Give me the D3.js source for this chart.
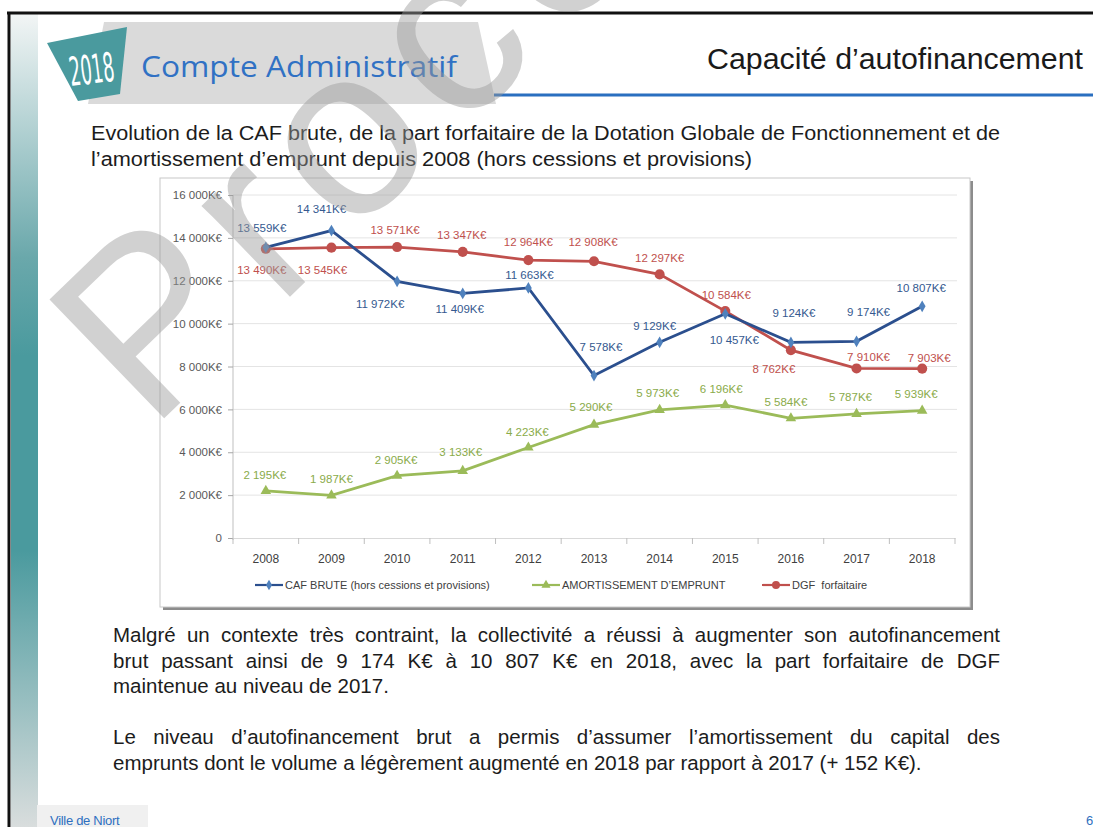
<!DOCTYPE html>
<html>
<head>
<meta charset="utf-8">
<script src="https://cdn.jsdelivr.net/npm/d3@7"></script>
<style>
  body { margin: 0; background: #fff; }
  svg { display: block; font-family: "Liberation Sans", Arial, sans-serif; }
</style>
</head>
<body>
<svg id="slide" width="1093" height="827"></svg>
<script>
// values (K€)
var years = ["2008", "2009", "2010", "2011", "2012", "2013", "2014", "2015", "2016", "2017", "2018"];
var cafBrute = [13559, 14341, 11972, 11409, 11663, 7578, 9129, 10457, 9124, 9174, 10807];
var amortissement = [2195, 1987, 2905, 3133, 4223, 5290, 5973, 6196, 5584, 5787, 5939];
var dgf = [13490, 13545, 13571, 13347, 12964, 12908, 12297, 10584, 8762, 7910, 7903];
var yTicks = [0, 2000, 4000, 6000, 8000, 10000, 12000, 14000, 16000];
var seriesNames = ["CAF BRUTE (hors cessions et provisions)", "AMORTISSEMENT D\u2019EMPRUNT", "DGF  forfaitaire"];

// where each data label sits relative to its point
var cafLabelPos = [[-4,-19],[-10,-22],[-17,23],[-3,16],[1,-13],[7,-29],[-5,-16],[9,26],[3,-29],[12,-29],[-1,-18]];
var dgfLabelPos = [[-4,21],[-9,22],[-2,-17],[-1,-17],[0,-18],[-1,-19],[0,-16],[1,-16],[-17,19],[12,-11],[7,-11]];
var amoLabelPos = [[-1,-16],[0,-16],[-1,-16],[-2,-19],[-1,-15],[-3,-18],[-2,-17],[-4,-16],[-5,-16],[-6,-17],[-6,-17]];

var svg = d3.select("#slide");
var defs = svg.append("defs");

var fr = d3.formatLocale({decimal: ",", thousands: " ", grouping: [3], currency: ["", ""]});
var num = fr.format(",");
function keuro(v) { return num(v) + "K\u20AC"; }

// ---- slide frame ----
var grad = defs.append("linearGradient").attr("id", "sidebar").attr("x1", 0).attr("y1", 0).attr("x2", 0).attr("y2", 1);
grad.append("stop").attr("offset", "0%").attr("stop-color", "#f2f5f5");
grad.append("stop").attr("offset", "30%").attr("stop-color", "#6aa8ab");
grad.append("stop").attr("offset", "42%").attr("stop-color", "#4a9a9e");
grad.append("stop").attr("offset", "66%").attr("stop-color", "#4a9a9e");
grad.append("stop").attr("offset", "100%").attr("stop-color", "#d9dddd");

svg.append("rect").attr("x", 11).attr("y", 14).attr("width", 27).attr("height", 813).attr("fill", "url(#sidebar)");
svg.append("line").attr("x1", 7).attr("x2", 1093).attr("y1", 13).attr("y2", 13).attr("stroke", "#111").attr("stroke-width", 3);
svg.append("line").attr("x1", 9).attr("x2", 9).attr("y1", 12).attr("y2", 827).attr("stroke", "#111").attr("stroke-width", 3);

// header
svg.append("polygon").attr("points", "104,22 478,22 496,104 88,104").attr("fill", "#dadada");
svg.append("polygon").attr("points", "47,43 127,27 120,94 78,101").attr("fill", "#4a9a9e");
svg.append("text").attr("transform", "translate(71,86) rotate(-7)")
    .attr("font-family", "'DejaVu Sans Condensed', 'Liberation Sans Narrow', sans-serif")
    .attr("font-size", 40).attr("fill", "#fff")
    .attr("textLength", 45).attr("lengthAdjust", "spacingAndGlyphs")
    .text("2018");
svg.append("text").attr("x", 141).attr("y", 77)
    .attr("font-family", "'Open Sans', 'Noto Sans', sans-serif")
    .attr("font-size", 29).attr("fill", "#3071c4")
    .attr("textLength", 316).attr("lengthAdjust", "spacingAndGlyphs")
    .text("Compte Administratif");
svg.append("line").attr("x1", 494).attr("x2", 1093).attr("y1", 95).attr("y2", 95)
    .attr("stroke", "#2a6fc0").attr("stroke-width", 3);
svg.append("text").attr("x", 707).attr("y", 69)
    .attr("font-size", 29).attr("fill", "#1a1a1a")
    .attr("textLength", 376).attr("lengthAdjust", "spacingAndGlyphs")
    .text("Capacit\u00e9 d\u2019autofinancement");

// body text lines
function textLine(str, x, y, size, target, justify) {
  var t = svg.append("text").attr("x", x).attr("y", y).attr("font-size", size).attr("fill", "#1c1c1c")
      .attr("xml:space", "preserve").text(str);
  if (target) {
    var w = t.node().getComputedTextLength();
    if (justify) {
      var spaces = str.split(" ").length - 1;
      t.attr("word-spacing", (target - w) / spaces);
    } else {
      t.attr("textLength", target).attr("lengthAdjust", "spacingAndGlyphs");
    }
  }
  return t;
}

textLine("Evolution de la CAF brute, de la part forfaitaire de la Dotation Globale de Fonctionnement et de", 91, 140, 20, 909, false);
textLine("l\u2019amortissement d\u2019emprunt depuis 2008 (hors cessions et provisions)", 91, 166, 20, 661, false);

textLine("Malgr\u00e9 un contexte tr\u00e8s contraint, la collectivit\u00e9 a r\u00e9ussi \u00e0 augmenter son autofinancement", 113, 642, 20.5, 887, true);
textLine("brut passant ainsi de 9 174 K\u20AC \u00e0 10 807 K\u20AC en 2018, avec la part forfaitaire de DGF", 113, 668, 20.5, 887, true);
textLine("maintenue au niveau de 2017.", 113, 693, 20.5, 0, false);
textLine("Le niveau d\u2019autofinancement brut a permis d\u2019assumer l\u2019amortissement du capital des", 113, 744, 20.5, 887, true);
textLine("emprunts dont le volume a l\u00e9g\u00e8rement augment\u00e9 en 2018 par rapport \u00e0 2017 (+ 152 K\u20AC).", 113, 770, 20.5, 0, false);

// footer
svg.append("rect").attr("x", 37).attr("y", 805).attr("width", 111).attr("height", 22).attr("fill", "#f0f0f0");
svg.append("text").attr("x", 50).attr("y", 825).attr("font-size", 13).attr("fill", "#2e6fc0")
    .attr("letter-spacing", -0.3).text("Ville de Niort");
svg.append("text").attr("x", 1086).attr("y", 825).attr("font-size", 13).attr("fill", "#2e6fc0").text("6");

// ---- chart ----
svg.append("rect").attr("x", 163).attr("y", 181).attr("width", 810).attr("height", 429).attr("fill", "#8c8c8c");
svg.append("rect").attr("x", 160).attr("y", 178).attr("width", 810).attr("height", 429)
    .attr("fill", "#fff").attr("stroke", "#c8c8c8");

var x = d3.scaleBand().domain(years).range([233, 955]);
var y = d3.scaleLinear().domain([0, 16000]).range([538, 195]);
function cx(i) { return x(years[i]) + x.bandwidth() / 2; }

var chart = svg.append("g").attr("font-size", 11.5);

// gridlines
chart.append("g").selectAll("line").data(yTicks.slice(1)).enter().append("line")
    .attr("x1", 233).attr("x2", 957)
    .attr("y1", function(d) { return y(d); }).attr("y2", function(d) { return y(d); })
    .attr("stroke", "#e4e4e4");

// y axis
var yAxis = chart.append("g").attr("transform", "translate(233,0)")
    .call(d3.axisLeft(y).tickValues(yTicks).tickSize(5).tickPadding(6)
      .tickFormat(function(d) { return d === 0 ? "0" : keuro(d); }));
yAxis.select(".domain").attr("stroke", "#bfbfbf").attr("d", "M0,195V540");
yAxis.selectAll(".tick line").attr("stroke", "#a6a6a6");
yAxis.selectAll("text").attr("fill", "#595959").attr("font-size", 11.5).attr("font-family", null);

// x axis
var xAxis = chart.append("g").attr("transform", "translate(0,538)")
    .call(d3.axisBottom(x).tickSize(0).tickPadding(16));
xAxis.select(".domain").attr("stroke", "#d9d9d9");
xAxis.selectAll("text").attr("fill", "#404040").attr("font-size", 12).attr("font-family", null);
chart.append("g").selectAll("line").data(years.concat(["end"])).enter().append("line")
    .attr("x1", function(d, i) { return 233 + i * x.step(); })
    .attr("x2", function(d, i) { return 233 + i * x.step(); })
    .attr("y1", 538).attr("y2", 544).attr("stroke", "#bfbfbf");

var series = [
  {values: amortissement, line: "#9bbb59", mark: "#9bbb59", label: "#8aab4a", sym: d3.symbolTriangle, size: 48, pos: amoLabelPos},
  {values: dgf, line: "#c0504d", mark: "#c0504d", label: "#c0504d", sym: d3.symbolCircle, size: 80, pos: dgfLabelPos},
  {values: cafBrute, line: "#2b4f8e", mark: "#4f81bd", label: "#35598f", sym: d3.symbolDiamond, size: 40, pos: cafLabelPos}
];

var line = d3.line().x(function(d, i) { return cx(i); }).y(function(d) { return y(d); });

series.forEach(function(s) {
  chart.append("path").datum(s.values).attr("d", line)
      .attr("fill", "none").attr("stroke", s.line).attr("stroke-width", 2.8);
  chart.append("g").selectAll("path").data(s.values).enter().append("path")
      .attr("d", d3.symbol().type(s.sym).size(s.size))
      .attr("transform", function(d, i) { return "translate(" + cx(i) + "," + y(d) + ")"; })
      .attr("fill", s.mark);
});

series.forEach(function(s) {
  chart.append("g").selectAll("text").data(s.values).enter().append("text")
      .attr("x", function(d, i) { return cx(i) + s.pos[i][0]; })
      .attr("y", function(d, i) { return y(d) + s.pos[i][1]; })
      .attr("dy", "0.35em").attr("text-anchor", "middle")
      .attr("fill", s.label)
      .text(keuro);
});

// legend
var legendItems = [
  {name: seriesNames[0], color: "#2b4f8e", mark: "#4f81bd", sym: d3.symbolDiamond, size: 32, x: 255},
  {name: seriesNames[1], color: "#9bbb59", mark: "#9bbb59", sym: d3.symbolTriangle, size: 36, x: 532},
  {name: seriesNames[2], color: "#c0504d", mark: "#c0504d", sym: d3.symbolCircle, size: 50, x: 762}
];
var lg = chart.append("g").selectAll("g").data(legendItems).enter().append("g")
    .attr("transform", function(d) { return "translate(" + d.x + ",585)"; });
lg.append("line").attr("x1", 0).attr("x2", 28).attr("stroke", function(d) { return d.color; }).attr("stroke-width", 2.2);
lg.append("path").attr("transform", "translate(14,0)")
    .attr("d", function(d) { return d3.symbol().type(d.sym).size(d.size)(); })
    .attr("fill", function(d) { return d.mark; });
lg.append("text").attr("x", 30).attr("dy", "0.35em").attr("fill", "#404040")
    .attr("xml:space", "preserve").attr("font-size", 11)
    .text(function(d) { return d.name; });

// ---- watermark ----
svg.append("text").attr("transform", "translate(150,432) rotate(-44)")
    .attr("font-size", 240).attr("letter-spacing", 18).attr("fill", "#9a9a9a").attr("opacity", 0.45)
    .text("Proc\u00e8s");
</script>
</body>
</html>
